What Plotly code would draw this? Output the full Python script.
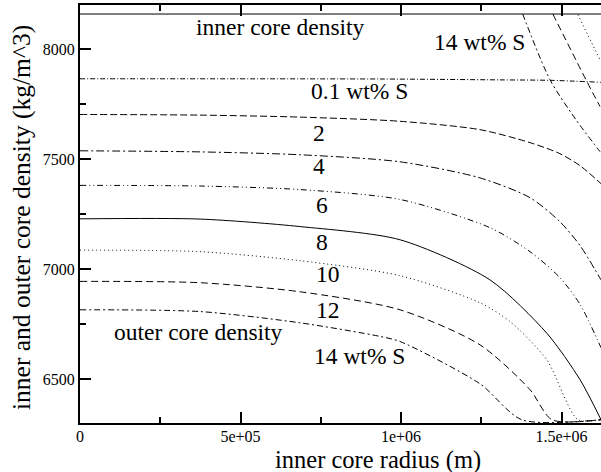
import plotly.graph_objects as go

# Inner core radius (m) and outer core density (kg/m^3) for each bulk sulfur content
r_s01 = [0, 935e3, 1308e3, 1464e3, 1623e3]
rho_s01 = [7865, 7864, 7860, 7858, 7849]

r_s02 = [0, 374e3, 685e3, 997e3, 1246e3, 1402e3, 1495e3, 1558e3, 1623e3]
rho_s02 = [7703, 7700, 7691, 7672, 7634, 7575, 7525, 7470, 7389]

r_s04 = [0, 374e3, 685e3, 997e3, 1246e3, 1402e3, 1495e3, 1558e3, 1623e3]
rho_s04 = [7538, 7533, 7520, 7488, 7415, 7325, 7216, 7107, 6952]

r_s06 = [0, 374e3, 685e3, 997e3, 1277e3, 1402e3, 1495e3, 1558e3, 1623e3]
rho_s06 = [7381, 7378, 7362, 7317, 7189, 7080, 6962, 6840, 6644]

r_s08 = [0, 374e3, 685e3, 997e3, 1277e3, 1454e3, 1558e3, 1623e3]
rho_s08 = [7229, 7228, 7194, 7134, 6952, 6710, 6498, 6317]

r_s10 = [0, 374e3, 685e3, 997e3, 1246e3, 1340e3, 1454e3, 1551e3, 1623e3]
rho_s10 = [7087, 7080, 7039, 6971, 6848, 6762, 6589, 6317, 6317]

r_s12 = [0, 374e3, 685e3, 997e3, 1246e3, 1402e3, 1470e3, 1623e3]
rho_s12 = [6945, 6939, 6898, 6816, 6657, 6453, 6317, 6317]

r_s14 = [0, 374e3, 685e3, 935e3, 997e3, 1246e3, 1376e3, 1623e3]
rho_s14 = [6816, 6808, 6757, 6695, 6672, 6480, 6317, 6317]

# Inner core density
r_ic = [0, 1623e3]
rho_ic = [8159, 8159]

# Steep branches in the upper right corner
r_hi_a = [1379e3, 1464e3, 1545e3, 1620e3]
rho_hi_a = [8159, 7861, 7679, 7534]
r_hi_b = [1473e3, 1576e3, 1620e3]
rho_hi_b = [8159, 7861, 7739]
r_hi_c = [1551e3, 1620e3]
rho_hi_c = [8156, 7951]

x_tickvals = [0, 5e5, 1e6, 1.5e6]
x_ticktext = ["0", "5e+05", "1e+06", "1.5e+06"]
y_tickvals = [6500, 7000, 7500, 8000]

curves = [
    (r_ic, rho_ic, "solid"),
    (r_s01, rho_s01, "5px,2px,1px,2px"),
    (r_s02, rho_s02, "7px,3px"),
    (r_s04, rho_s04, "8px,3px,2px,3px"),
    (r_s06, rho_s06, "6px,3px,1px,3px,1px,3px"),
    (r_s08, rho_s08, "solid"),
    (r_s10, rho_s10, "1px,3px"),
    (r_s12, rho_s12, "7px,4px"),
    (r_s14, rho_s14, "6px,3px,2px,3px"),
    (r_hi_a, rho_hi_a, "6px,3px,2px,3px"),
    (r_hi_b, rho_hi_b, "7px,4px"),
    (r_hi_c, rho_hi_c, "1px,3px"),
]

fig = go.Figure()
for xs, ys, dash in curves:
    fig.add_trace(go.Scatter(
        x=xs, y=ys, mode="lines",
        line=dict(color="black", width=1, dash=dash, shape="spline", smoothing=0.75),
        showlegend=False, hoverinfo="skip",
    ))

serif = "Liberation Serif, Times New Roman, serif"
labels = [
    ("inner core density", 626e3, 8101),
    ("14 wt% S", 1246e3, 8032),
    ("0.1 wt% S", 872e3, 7810),
    ("2", 743e3, 7618),
    ("4", 743e3, 7471),
    ("6", 754e3, 7293),
    ("8", 754e3, 7123),
    ("10", 774e3, 6980),
    ("12", 774e3, 6816),
    ("outer core density", 368e3, 6716),
    ("14 wt% S", 872e3, 6607),
]
for text, x, y in labels:
    fig.add_annotation(x=x, y=y, text=text, showarrow=False,
                       xanchor="center", yanchor="middle",
                       font=dict(family=serif, size=23.5, color="black"))

# Axis titles
fig.add_annotation(xref="paper", yref="paper", x=0.572, y=-0.088,
                   text="inner core radius (m)", showarrow=False,
                   xanchor="center", yanchor="middle",
                   font=dict(family=serif, size=24.5, color="black"))
fig.add_annotation(xref="paper", yref="paper", x=-0.112, y=0.492,
                   text="inner and outer core density (kg/m^3)", showarrow=False,
                   textangle=-90, xanchor="center", yanchor="middle",
                   font=dict(family=serif, size=25.5, color="black"))

fig.update_layout(
    width=601, height=472,
    margin=dict(l=80, r=0, t=5, b=49),
    paper_bgcolor="white", plot_bgcolor="white",
    font=dict(family=serif, color="black"),
    xaxis=dict(
        range=[0, 1623e3], tickvals=x_tickvals, ticktext=x_ticktext,
        showgrid=False, zeroline=False, showline=True, linecolor="black", linewidth=2,
        ticks="inside", ticklen=11, tickwidth=1.5, tickcolor="black", mirror="ticks",
        minor=dict(ticks="inside", ticklen=6, tickwidth=1.5, tickcolor="black",
                   dtick=250e3, tick0=0, showgrid=False),
        tickfont=dict(family=serif, size=16, color="black"),
        ticklabelstandoff=-2,
    ),
    yaxis=dict(
        range=[6302, 8200], tickvals=y_tickvals,
        showgrid=False, zeroline=False, showline=True, linecolor="black", linewidth=2,
        ticks="inside", ticklen=11, tickwidth=1.5, tickcolor="black",
        minor=dict(ticks="inside", ticklen=6, tickwidth=1.5, tickcolor="black",
                   dtick=250, tick0=0, showgrid=False),
        tickfont=dict(family=serif, size=16, color="black"),
    ),
)

fig.write_html("out.html")
